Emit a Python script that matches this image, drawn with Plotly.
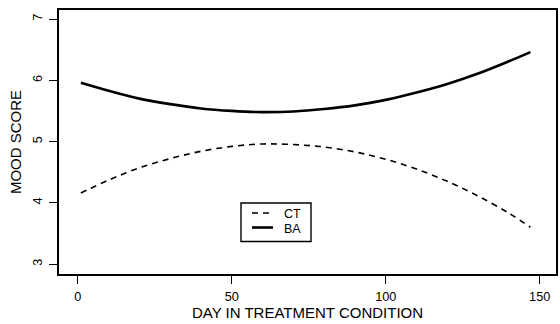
import plotly.graph_objects as go

days = [1, 10, 20, 30, 40, 50, 60, 70, 80, 90, 100, 110, 120, 130, 140, 147]
ct_scores = [4.16, 4.37, 4.57, 4.72, 4.84, 4.92, 4.96, 4.95, 4.91, 4.83, 4.71, 4.55, 4.35, 4.11, 3.83, 3.60]
ba_scores = [5.96, 5.83, 5.70, 5.61, 5.54, 5.50, 5.48, 5.49, 5.53, 5.59, 5.68, 5.80, 5.94, 6.11, 6.31, 6.46]
x_ticks = [0, 50, 100, 150]
y_ticks = [3, 4, 5, 6, 7]
series_names = ["CT", "BA"]

font_family = "Liberation Sans, Arial, sans-serif"
W, H = 560, 324
L, R, T, B = 59, 4, 10, 50
pw, ph = W - L - R, H - T - B

def px_x(p):
    return (p - L) / pw

def px_y(p):
    return (H - B - p) / ph

fig = go.Figure()
fig.add_trace(go.Scatter(x=days, y=ct_scores, mode="lines", name=series_names[0],
                         line=dict(color="black", width=1.6, dash="6px,5px", shape="spline")))
fig.add_trace(go.Scatter(x=days, y=ba_scores, mode="lines", name=series_names[1],
                         line=dict(color="black", width=2.6, shape="spline")))

# manual legend (box, keys and labels)
fig.add_shape(type="rect", xref="paper", yref="paper",
              x0=px_x(241), x1=px_x(311), y0=px_y(241.5), y1=px_y(203),
              line=dict(color="black", width=1.4), fillcolor="white", layer="above")
fig.add_shape(type="line", xref="paper", yref="paper",
              x0=px_x(252), x1=px_x(273), y0=px_y(213), y1=px_y(213),
              line=dict(color="black", width=1.6, dash="6px,5px"))
fig.add_shape(type="line", xref="paper", yref="paper",
              x0=px_x(252), x1=px_x(273), y0=px_y(227.5), y1=px_y(227.5),
              line=dict(color="black", width=2.6))
for name, yp in zip(series_names, [213.5, 228.5]):
    fig.add_annotation(text=name, xref="paper", yref="paper", x=px_x(282), y=px_y(yp),
                       xanchor="left", yanchor="middle", showarrow=False,
                       font=dict(size=12.5, family=font_family, color="black"))

fig.update_layout(
    width=W, height=H,
    margin=dict(l=L, r=R, t=T, b=B, autoexpand=False),
    paper_bgcolor="white", plot_bgcolor="white",
    font=dict(family=font_family, size=12.7, color="black"),
    showlegend=False,
)
fig.update_xaxes(range=[-6.1, 155.3], tickvals=x_ticks, ticks="outside", ticklen=8,
                 tickwidth=1.3, tickcolor="black", showline=True, linecolor="black",
                 linewidth=1.5, mirror=True, showgrid=False, zeroline=False,
                 automargin=False, ticklabelstandoff=2,
                 title=dict(text="DAY IN TREATMENT CONDITION", standoff=0),
                 tickfont=dict(size=12.7))
fig.update_yaxes(range=[2.837, 7.147], tickvals=y_ticks, ticks="outside", ticklen=8,
                 tickwidth=1.3, tickcolor="black", showline=True, linecolor="black",
                 linewidth=1.5, mirror=True, showgrid=False, zeroline=False,
                 tickangle=-90, automargin=False, ticklabelstandoff=2,
                 title=dict(text="MOOD SCORE", standoff=6),
                 tickfont=dict(size=12.7))

fig.write_html("out.html", config={"displayModeBar": False},
               post_script="document.body.style.margin='0';")
